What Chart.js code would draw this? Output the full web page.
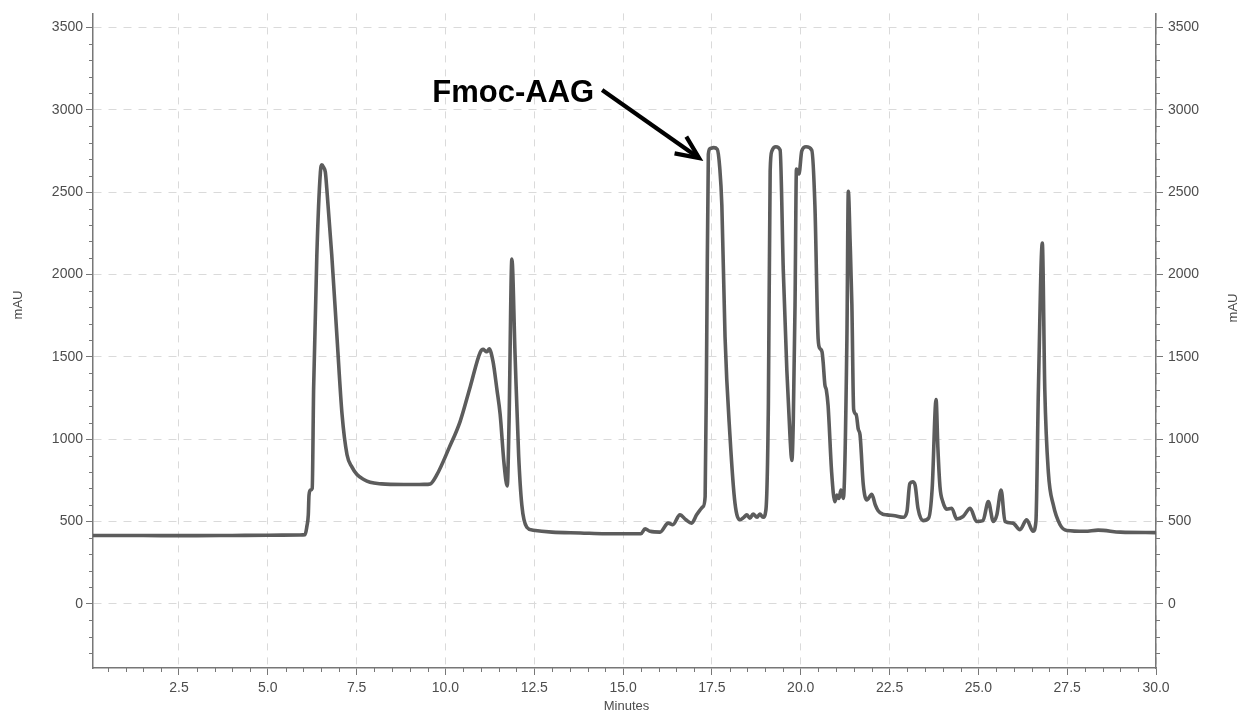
<!DOCTYPE html>
<html>
<head>
<meta charset="utf-8">
<script src="https://cdn.jsdelivr.net/npm/chart.js@4.4.1/dist/chart.umd.min.js"></script>
<style>
html,body{margin:0;padding:0;background:#ffffff;}
#wrap{width:1242px;height:715px;position:relative;}
</style>
</head>
<body>
<div id="wrap"><canvas id="c" width="1242" height="715"></canvas></div>
<script>
// ---- data ----
const minutes = [
  0.08, 1.0, 2.0, 3.0, 4.0, 5.0, 5.9, 6.05, 6.1, 6.14, 6.16, 6.2, 6.25, 6.29, 6.38, 6.48, 6.52, 6.57, 6.62, 6.66,
  6.8, 6.95, 7.09, 7.23, 7.37, 7.51, 7.7, 7.88, 8.2, 8.45, 9.0, 9.4, 9.57, 9.76, 10.1, 10.41, 10.7, 10.98, 11.06, 11.12,
  11.17, 11.23, 11.34, 11.45, 11.54, 11.65, 11.74, 11.79, 11.87, 11.96, 12.06, 12.15, 12.29, 12.47, 13.0, 13.8, 14.5, 15.5, 15.62, 15.76,
  16.04, 16.27, 16.4, 16.6, 16.77, 16.93, 17.07, 17.25, 17.31, 17.355, 17.40, 17.45, 17.55, 17.65, 17.72, 17.78, 17.87, 18.01, 18.15, 18.29,
  18.4, 18.48, 18.57, 18.66, 18.77, 18.85, 18.94, 19.02, 19.09, 19.14, 19.19, 19.3, 19.42, 19.51, 19.61, 19.70, 19.75, 19.79, 19.84, 19.88,
  19.95, 20.03, 20.15, 20.31, 20.40, 20.49, 20.54, 20.60, 20.63, 20.68, 20.72, 20.77, 20.87, 20.96, 21.02, 21.08, 21.13, 21.2, 21.3, 21.34,
  21.39, 21.44, 21.49, 21.56, 21.62, 21.67, 21.76, 21.86, 22.0, 22.1, 22.18, 22.3, 22.43, 22.65, 22.88, 22.99, 23.07, 23.15, 23.22, 23.3,
  23.44, 23.6, 23.7, 23.81, 23.86, 23.92, 24.0, 24.11, 24.25, 24.39, 24.57, 24.77, 24.95, 25.13, 25.28, 25.42, 25.52, 25.64, 25.75, 25.97,
  26.17, 26.36, 26.54, 26.62, 26.69, 26.8, 26.87, 26.97, 27.11, 27.3, 27.49, 28.0, 28.37, 29.0, 30.0
];
const mAU = [
  415, 415, 414, 414, 415, 416, 418, 420, 470, 540, 660, 690, 700, 1310, 2115, 2620, 2665, 2650, 2620, 2523,
  2119, 1610, 1150, 905, 830, 785, 755, 738, 728, 725, 724, 725, 728, 784, 945, 1105, 1320, 1528, 1545, 1535,
  1530, 1548, 1470, 1300, 1150, 850, 715, 1100, 2093, 1510, 905, 600, 465, 447, 435, 430, 425, 425, 455, 440,
  435, 490, 480, 540, 510, 490, 540, 590, 650, 1620, 2730, 2765, 2770, 2760, 2650, 2420, 1620, 1015, 610, 510,
  525, 540, 520, 545, 525, 545, 525, 570, 1215, 2630, 2750, 2775, 2755, 2020, 1415, 1010, 870, 1100, 1815, 2640,
  2610, 2750, 2775, 2755, 2415, 1610, 1550, 1530, 1470, 1330, 1300, 1205, 800, 620, 660, 640, 690, 640, 1610, 2505,
  2200, 1815, 1180, 1150, 1060, 1025, 725, 630, 665, 600, 565, 545, 540, 535, 525, 560, 730, 740, 720, 580,
  505, 520, 700, 1240, 950, 710, 620, 575, 580, 515, 530, 580, 500, 505, 620, 500, 540, 690, 500, 490,
  450, 510, 440, 500, 1300, 2190, 1300, 800, 600, 480, 445, 440, 447, 435, 432
];
const xTickLabels = ['2.5', '5.0', '7.5', '10.0', '12.5', '15.0', '17.5', '20.0', '22.5', '25.0', '27.5', '30.0'];
const yTickLabels = ['0', '500', '1000', '1500', '2000', '2500', '3000', '3500'];
const xTitle = 'Minutes';
const yTitle = 'mAU';
const peakName = 'Fmoc-AAG';

// ---- layout / style ----
const X_MIN = 0.08, X_MAX = 30.0, Y_MIN = -390, Y_MAX = 3585;
const labelAnchor = { t: 9.63, v: 3046 };
const arrowTail = { t: 14.41, v: 3120 };
const arrowTip = { t: 17.14, v: 2706 };
const tickFont = { family: "'Liberation Sans', Arial, Helvetica, sans-serif", size: 14 };
const tickColor = '#4d4d4d';
const axisColor = '#777777';
const gridColor = '#dadada';

const points = minutes.map((t, i) => ({ x: t, y: mAU[i] }));

const extrasPlugin = {
  id: 'extras',
  afterDraw(chart) {
    const ctx = chart.ctx;
    const xs = chart.scales.x, yl = chart.scales.y, yr = chart.scales.y2;
    const ca = chart.chartArea;
    ctx.save();
    // minor ticks
    ctx.strokeStyle = axisColor;
    ctx.lineWidth = 1;
    ctx.beginPath();
    for (let v = -300; v <= 3500; v += 100) {
      if (v % 500 === 0) continue;
      const py = Math.round(yl.getPixelForValue(v)) + 0.5;
      ctx.moveTo(ca.left - 4, py); ctx.lineTo(ca.left, py);
      ctx.moveTo(ca.right, py); ctx.lineTo(ca.right + 4, py);
    }
    for (let k = 1; k < 60; k++) {
      if (k % 5 === 0) continue;
      const px = Math.round(xs.getPixelForValue(k * 0.5)) + 0.5;
      ctx.moveTo(px, ca.bottom); ctx.lineTo(px, ca.bottom + 4);
    }
    ctx.stroke();

    // axis titles
    ctx.fillStyle = tickColor;
    ctx.font = "13px 'Liberation Sans', Arial, sans-serif";
    ctx.textAlign = 'center';
    ctx.textBaseline = 'middle';
    ctx.fillText(xTitle, (ca.left + ca.right) / 2 + 2, 706);
    ctx.save();
    ctx.translate(18, 305); ctx.rotate(-Math.PI / 2); ctx.fillText(yTitle, 0, 0);
    ctx.restore();
    ctx.save();
    ctx.translate(1233, 308); ctx.rotate(-Math.PI / 2); ctx.fillText(yTitle, 0, 0);
    ctx.restore();

    // annotation
    ctx.fillStyle = '#000000';
    ctx.font = "bold 31px 'Liberation Sans', Arial, sans-serif";
    ctx.textAlign = 'left';
    ctx.textBaseline = 'alphabetic';
    ctx.fillText(peakName, xs.getPixelForValue(labelAnchor.t), yl.getPixelForValue(labelAnchor.v));

    const x1 = xs.getPixelForValue(arrowTail.t), y1 = yl.getPixelForValue(arrowTail.v);
    const x2 = xs.getPixelForValue(arrowTip.t), y2 = yl.getPixelForValue(arrowTip.v);
    const ang = Math.atan2(y2 - y1, x2 - x1);
    ctx.strokeStyle = '#000000';
    ctx.lineWidth = 4.2;
    ctx.lineCap = 'butt';
    ctx.beginPath();
    ctx.moveTo(x1, y1); ctx.lineTo(x2 - 2 * Math.cos(ang), y2 - 2 * Math.sin(ang));
    ctx.stroke();
    const hl = 25, ha = 0.42;
    ctx.lineJoin = 'miter';
    ctx.beginPath();
    ctx.moveTo(x2 - hl * Math.cos(ang - ha), y2 - hl * Math.sin(ang - ha));
    ctx.lineTo(x2, y2);
    ctx.lineTo(x2 - hl * Math.cos(ang + ha), y2 - hl * Math.sin(ang + ha));
    ctx.stroke();
    ctx.restore();
  }
};

new Chart(document.getElementById('c'), {
  type: 'line',
  data: {
    datasets: [{
      data: points,
      borderColor: '#5c5c5c',
      borderWidth: 3.6,
      pointRadius: 0,
      fill: false,
      cubicInterpolationMode: 'monotone',
      yAxisID: 'y'
    }]
  },
  options: {
    responsive: false,
    animation: false,
    devicePixelRatio: 1,
    parsing: true,
    layout: { padding: { top: 12, left: 0, right: 0, bottom: 0 } },
    plugins: { legend: { display: false }, tooltip: { enabled: false }, title: { display: false } },
    scales: {
      x: {
        type: 'linear',
        position: 'bottom',
        min: X_MIN, max: X_MAX,
        afterBuildTicks: s => { s.ticks = xTickLabels.map(l => ({ value: parseFloat(l) })); },
        afterFit: s => { s.height = 47; },
        ticks: {
          autoSkip: false, maxRotation: 0, padding: 5,
          font: tickFont, color: tickColor,
          callback: v => Number(v).toFixed(1)
        },
        grid: { color: gridColor, lineWidth: 1, tickLength: 7, tickColor: axisColor, drawTicks: true },
        border: { display: true, color: axisColor, width: 1.5, dash: [7, 7] }
      },
      y: {
        type: 'linear',
        position: 'left',
        min: Y_MIN, max: Y_MAX,
        afterBuildTicks: s => { s.ticks = yTickLabels.map(l => ({ value: parseFloat(l) })); },
        afterFit: s => { s.width = 93; },
        ticks: { autoSkip: false, padding: 3, font: tickFont, color: tickColor, callback: v => String(v) },
        grid: { color: gridColor, lineWidth: 1, tickLength: 7, tickColor: axisColor, drawTicks: true },
        border: { display: true, color: axisColor, width: 1.5, dash: [8, 7] }
      },
      y2: {
        type: 'linear',
        position: 'right',
        min: Y_MIN, max: Y_MAX,
        afterBuildTicks: s => { s.ticks = yTickLabels.map(l => ({ value: parseFloat(l) })); },
        afterFit: s => { s.width = 86; },
        ticks: { autoSkip: false, padding: 5, font: tickFont, color: tickColor, callback: v => String(v) },
        grid: { drawOnChartArea: false, tickLength: 7, tickColor: axisColor, drawTicks: true },
        border: { display: true, color: axisColor, width: 1.5 }
      }
    }
  },
  plugins: [extrasPlugin]
});
</script>
</body>
</html>
